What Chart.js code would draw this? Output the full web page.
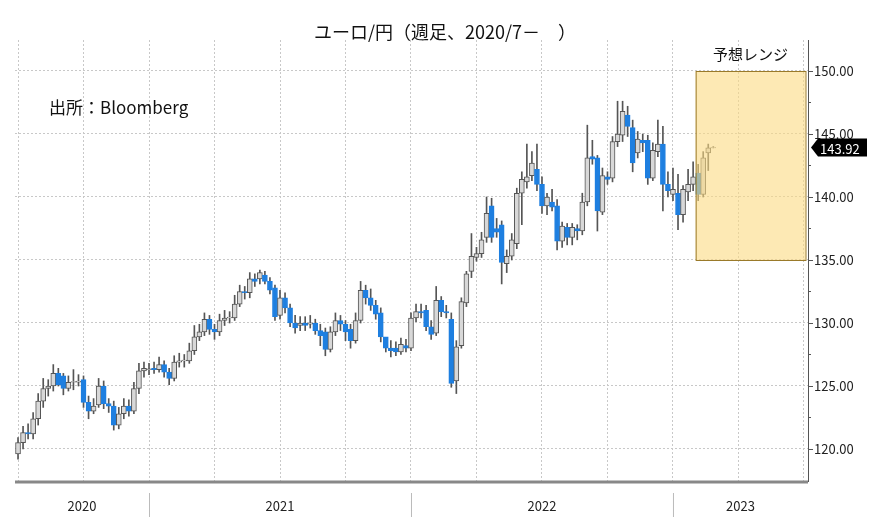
<!DOCTYPE html>
<html>
<head>
<meta charset="utf-8">
<script src="https://cdn.jsdelivr.net/npm/chart.js@4.4.0/dist/chart.umd.min.js"></script>
<style>
  body { margin: 0; background: #fff; }
  #wrap { width: 874px; height: 519px; }
</style>
</head>
<body>
<div id="wrap"><canvas id="candles" width="874" height="519"></canvas></div>
<script>
// weekly EUR/JPY candles, 2020/7 -
const opens = [119.6,120.5,121.3,121.2,122.4,123.8,124.8,125.0,126.0,125.8,124.8,125.3,125.3,125.5,123.7,123.0,123.5,125.0,123.6,123.4,
  121.9,122.8,123.4,123.0,124.8,126.2,126.3,126.4,126.3,126.7,126.1,125.6,126.9,127.0,127.0,127.8,128.9,129.3,130.3,129.5,
  129.3,130.2,130.4,130.4,131.5,132.5,132.4,133.5,133.5,133.8,133.3,132.8,130.6,132.0,131.2,130.0,129.8,130.0,129.9,130.0,
  129.4,129.3,127.9,129.3,130.2,129.9,129.5,128.6,130.2,132.6,132.0,131.4,130.8,128.9,128.0,128.0,127.7,128.2,128.0,130.4,
  130.9,131.0,129.7,129.2,131.8,130.9,130.3,125.4,128.2,131.6,134.1,135.2,135.5,136.8,139.3,137.5,137.8,134.7,135.3,136.3,
  140.3,141.2,141.7,142.2,141.0,139.3,139.6,139.3,136.5,137.6,136.8,137.5,137.3,139.6,143.2,143.1,138.8,141.6,141.5,144.4,
  144.9,146.5,145.5,143.5,144.5,144.5,141.5,143.6,144.2,141.0,140.2,140.3,138.6,140.4,141.0,141.9,140.2,143.5,143.9];
const closes = [120.5,121.3,121.2,122.4,123.8,124.8,125.0,126.0,125.1,124.8,125.3,125.3,125.4,123.7,123.0,123.4,125.0,123.6,123.4,121.9,
  122.8,123.4,123.0,124.8,126.2,126.4,126.3,126.3,126.7,126.1,125.6,126.9,127.0,127.0,127.8,128.9,129.3,130.3,129.5,129.3,
  130.2,130.4,130.4,131.5,132.5,132.4,133.5,133.3,134.0,133.3,132.6,130.5,132.0,131.2,130.0,129.6,130.0,129.8,130.0,129.4,
  129.0,127.9,129.3,130.2,129.9,129.3,128.6,130.2,132.6,132.0,131.4,130.7,128.9,128.0,127.8,127.7,128.3,128.0,130.4,130.9,
  130.8,129.7,129.1,131.8,130.9,130.8,125.2,128.1,131.7,133.9,135.3,135.5,136.6,138.7,136.8,137.2,134.8,135.3,136.6,140.3,
  141.4,141.6,142.7,141.0,139.3,140.0,139.2,136.5,137.7,136.8,137.6,137.3,139.6,143.1,143.0,138.9,141.7,141.4,144.4,145.0,
  146.8,145.6,142.7,144.6,144.3,141.5,143.7,144.2,141.0,140.5,140.6,138.6,140.6,141.0,141.6,140.2,143.1,143.9,143.92];
const highs = [120.9,121.8,122.0,122.9,124.4,125.6,125.5,126.7,126.4,126.0,125.8,126.3,125.9,125.8,124.2,124.0,125.6,125.4,124.0,123.8,
  123.3,124.0,123.9,125.3,126.8,126.9,126.8,126.9,127.3,127.0,126.4,127.4,127.6,127.5,128.4,129.8,129.9,130.8,130.6,129.9,
  130.7,131.0,130.9,132.2,133.0,132.9,134.0,133.9,134.2,134.1,133.6,133.0,132.6,132.4,131.5,130.6,130.5,130.5,130.6,130.3,
  129.9,129.6,129.7,130.8,130.6,130.2,129.9,130.8,133.3,133.0,132.7,131.8,131.2,128.8,128.6,128.5,128.8,128.7,130.8,131.5,
  131.5,131.4,130.2,132.9,132.1,131.4,130.8,128.6,132.0,134.1,137.1,136.0,137.2,140.0,139.9,138.3,138.1,135.8,137.1,140.7,
  142.0,144.2,143.6,144.2,141.6,140.3,140.6,139.8,138.0,137.9,137.9,137.8,140.3,145.7,144.5,143.3,142.3,142.0,144.8,147.6,
  147.6,147.2,146.1,145.2,145.0,144.9,144.3,146.1,145.6,142.0,142.3,141.8,140.9,142.2,142.8,142.6,143.6,144.2,144.0];
const lows = [119.2,120.0,120.8,120.8,121.9,123.3,124.2,124.6,125.0,124.3,124.6,124.7,125.0,123.3,122.4,122.8,123.3,123.2,122.9,121.5,
  121.6,122.4,122.6,122.8,124.4,125.7,125.9,126.0,126.1,125.7,125.1,125.4,126.5,126.5,126.8,127.5,128.6,129.0,129.1,128.7,
  129.0,129.8,130.0,130.2,131.3,131.9,132.0,132.9,133.1,133.1,132.3,130.2,130.3,130.8,129.7,129.2,129.4,129.4,129.6,129.1,
  128.2,127.4,127.7,129.0,129.4,128.6,128.0,128.4,130.0,131.5,131.0,130.3,128.5,127.7,127.3,127.4,127.5,127.7,127.8,130.1,
  130.4,129.4,128.7,129.0,130.5,130.4,124.9,124.4,128.0,131.3,133.6,134.9,135.2,136.4,136.4,136.8,133.1,134.0,135.0,135.9,
  137.8,140.7,141.3,140.5,138.7,138.6,138.9,135.8,136.0,136.2,136.2,136.6,137.0,139.3,142.6,137.3,138.6,141.0,141.2,144.0,
  144.4,144.8,142.0,143.1,143.6,141.0,141.3,143.2,138.9,140.0,139.7,137.4,138.0,139.7,140.5,139.7,140.0,142.1,143.9];
const yTicks = [120, 125, 130, 135, 140, 145, 150];
const years = [
  { label: '2020', from: -0.6, to: 26 },
  { label: '2021', from: 26, to: 78 },
  { label: '2022', from: 78, to: 130 },
  { label: '2023', from: 130, to: 156.8 }
];
const rangeBox = { from: 134.5, to: 156.3, low: 135, high: 150, label: '予想レンジ' };
const lastPrice = 143.92;

const isUp = i => closes[i] >= opens[i];
const bodies = opens.map((o, i) => ({ x: i, y: [o, closes[i] === o ? o + 0.06 : closes[i]] }));
const wicks = opens.map((o, i) => ({ x: i, y: [lows[i], highs[i]] }));
const font = 'Noto Sans CJK JP, Noto Sans, sans-serif';

const extras = {
  id: 'extras',
  afterDatasetsDraw(chart) {
    const { ctx, chartArea, scales } = chart;
    const x = scales.x, y = scales.y;
    ctx.save();
    // forecast range box
    const bx1 = x.getPixelForValue(rangeBox.from), bx2 = x.getPixelForValue(rangeBox.to);
    const by1 = y.getPixelForValue(rangeBox.high), by2 = y.getPixelForValue(rangeBox.low);
    ctx.fillStyle = 'rgba(252, 218, 130, 0.6)';
    ctx.fillRect(bx1, by1, bx2 - bx1, by2 - by1);
    ctx.strokeStyle = '#9a7a2a';
    ctx.lineWidth = 1;
    ctx.strokeRect(bx1 + 0.5, by1 + 0.5, bx2 - bx1, by2 - by1);
    ctx.fillStyle = '#111';
    ctx.font = '15px ' + font;
    ctx.textAlign = 'center';
    ctx.textBaseline = 'bottom';
    ctx.fillText(rangeBox.label, (bx1 + bx2) / 2, by1 - 9);

    // title and source
    ctx.font = '18px ' + font;
    ctx.fillText('ユーロ/円（週足、2020/7－　）', 445, 41);
    ctx.textAlign = 'left';
    ctx.textBaseline = 'middle';
    ctx.font = '17px ' + font;
    ctx.fillText('出所：Bloomberg', 49, 108);

    // bottom year band
    const base = chartArea.bottom;
    ctx.strokeStyle = '#888';
    ctx.lineWidth = 3;
    ctx.beginPath();
    ctx.moveTo(chartArea.left, base + 1);
    ctx.lineTo(chartArea.right, base + 1);
    ctx.stroke();
    ctx.lineWidth = 1;
    ctx.strokeStyle = '#bbb';
    ctx.font = '13px ' + font;
    ctx.textAlign = 'center';
    ctx.fillStyle = '#222';
    years.forEach((yr, k) => {
      const a = x.getPixelForValue(yr.from), b = x.getPixelForValue(yr.to);
      if (k > 0) {
        ctx.beginPath();
        ctx.moveTo(a + 0.5, base + 12);
        ctx.lineTo(a + 0.5, base + 36);
        ctx.stroke();
      }
      ctx.fillText(yr.label, (a + b) / 2, base + 25);
    });

    // right axis minor ticks
    ctx.strokeStyle = '#555';
    for (let v = 120; v <= 150; v += 2.5) {
      const py = Math.round(y.getPixelForValue(v)) + 0.5;
      ctx.beginPath();
      ctx.moveTo(chartArea.right, py);
      ctx.lineTo(chartArea.right + (v % 5 === 0 ? 5 : 3), py);
      ctx.stroke();
    }

    // last price tag
    const py = y.getPixelForValue(lastPrice);
    const tx = chartArea.right + 3;
    ctx.fillStyle = '#000';
    ctx.beginPath();
    ctx.moveTo(tx, py);
    ctx.lineTo(tx + 7, py - 9);
    ctx.lineTo(tx + 56, py - 9);
    ctx.lineTo(tx + 56, py + 9);
    ctx.lineTo(tx + 7, py + 9);
    ctx.closePath();
    ctx.fill();
    ctx.fillStyle = '#fff';
    ctx.font = '13px ' + font;
    ctx.textAlign = 'left';
    ctx.fillText(lastPrice.toFixed(2), tx + 9, py + 1);
    ctx.restore();
  }
};

new Chart(document.getElementById('candles'), {
  type: 'bar',
  data: {
    datasets: [
      {
        label: 'body',
        data: bodies,
        grouped: false,
        order: 1,
        barThickness: 5,
        backgroundColor: bodies.map((b, i) => isUp(i) ? '#d8d8d8' : '#1e7fe0'),
        borderColor: bodies.map((b, i) => isUp(i) ? '#555' : '#1e7fe0'),
        borderWidth: 1,
        borderSkipped: false
      },
      {
        label: 'wick',
        data: wicks,
        grouped: false,
        order: 2,
        barThickness: 1,
        backgroundColor: '#555'
      }
    ]
  },
  options: {
    responsive: false,
    animation: false,
    layout: { padding: { left: 15, top: 40, right: 0, bottom: 0 } },
    plugins: { legend: { display: false }, tooltip: { enabled: false }, title: { display: false } },
    scales: {
      x: {
        type: 'linear',
        min: -0.6,
        max: 156.8,
        offset: false,
        ticks: { display: false, stepSize: 13 },
        afterBuildTicks: s => { s.ticks = []; for (let v = 0; v <= 156; v += 13) s.ticks.push({ value: v }); },
        afterFit: s => { s.height = 38; },
        grid: { color: '#c8c8c8', offset: false, drawTicks: false, lineWidth: 1 },
        border: { display: false, dash: [2, 2] }
      },
      y: {
        position: 'right',
        min: 117.46,
        max: 152.46,
        afterBuildTicks: s => { s.ticks = yTicks.map(v => ({ value: v })); },
        afterFit: s => { s.width = 66; },
        ticks: {
          color: '#222',
          padding: 6,
          font: { size: 13, family: font },
          callback: v => v.toFixed(2)
        },
        grid: { color: '#c8c8c8', drawTicks: false },
        border: { color: '#555', dash: [2, 2] }
      }
    }
  },
  plugins: [extras]
});
</script>
</body>
</html>
